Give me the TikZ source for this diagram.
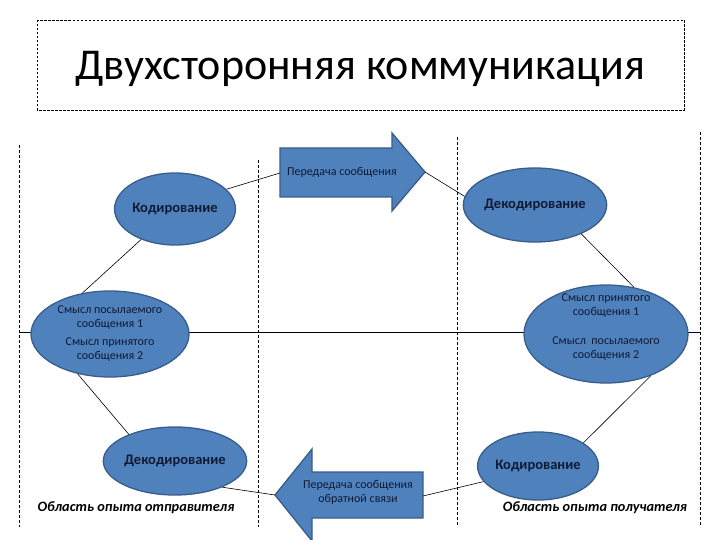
\documentclass[tikz,border=0pt]{standalone}
\usepackage{fontspec}
\setmainfont{Carlito}
\usetikzlibrary{shapes.geometric}
\definecolor{fillblue}{HTML}{4F81BD}
\definecolor{edgeblue}{HTML}{385D8A}
\definecolor{txtnavy}{HTML}{101A33}
\tikzset{
  oval/.style={ellipse, fill=fillblue, draw=edgeblue, line width=1.3pt, inner sep=0pt, text=txtnavy},
  bigarrow/.style={fill=fillblue, draw=edgeblue, line width=1.3pt},
  sep/.style={dashed, line width=0.8pt, dash pattern=on 3pt off 2pt},
  conn/.style={line width=0.6pt, black},
  ovaltext/.style={font=\fontsize{14.5}{16}\selectfont\bfseries},
  smalltext/.style={font=\fontsize{12}{14}\selectfont, text=txtnavy, align=center, inner sep=0pt},
  area/.style={font=\fontsize{14.3}{16}\selectfont\bfseries\itshape, inner sep=0pt}
}
\begin{document}
\begin{tikzpicture}[x=1pt,y=-1pt]
\useasboundingbox (0,0) rectangle (720,540);
% title
\draw[sep, line width=0.6pt, dash pattern=on 2.5pt off 1.5pt] (37,20) rectangle (684,110);
\node[inner sep=0pt, font=\fontsize{44}{50}\selectfont] (title) at (360,69) {Двухсторонняя коммуникация};
% separators
\draw[sep] (19,145) -- (19,527);
\draw[sep] (258,160) -- (258,527);
\draw[sep] (457,137) -- (457,527);
\draw[sep] (700,132) -- (700,527);
\draw[line width=0.8pt] (19,332) -- (700,332);
% top arrow
\draw[bigarrow] (280,148) -- (392,148) -- (392,133) -- (425,172) -- (392,211) -- (392,197) -- (280,197) -- cycle;
\coordinate (topL) at (280,173);
\coordinate (topTip) at (425,172);
\node[smalltext] (toptext) at (342,172) {Передача сообщения};
% bottom arrow
\draw[bigarrow] (423,472) -- (312,472) -- (312,449) -- (275,495) -- (312,541) -- (312,518) -- (423,518) -- cycle;
\coordinate (botTip) at (275,495);
\coordinate (botR) at (423,496);
\node[smalltext] (bottext) at (358,492) {Передача сообщения\\обратной связи};
% ellipses
\node[oval, ovaltext, minimum width=116pt, minimum height=72pt] (kodL) at (175,209) {Кодирование};
\node[oval, ovaltext, minimum width=114pt, minimum height=74pt] (dekR) at (535,205) {Декодирование};
\node[oval, minimum width=158pt, minimum height=86pt] (midL) at (110,334) {};
\node[oval, minimum width=164pt, minimum height=98pt] (midR) at (606,334) {};
\node[oval, ovaltext, minimum width=118pt, minimum height=68pt] (dekL) at (175,461) {Декодирование};
\node[oval, ovaltext, minimum width=108pt, minimum height=68pt] (kodR) at (538,466) {Кодирование};
% middle texts
\node[smalltext] (midLa) at (110,318) {Смысл посылаемого\\сообщения 1};
\node[smalltext] (midLb) at (110,350) {Смысл принятого\\сообщения 2};
\node[smalltext] (midRa) at (606,306) {Смысл принятого\\сообщения 1};
\node[smalltext] (midRb) at (606,349) {Смысл \ посылаемого\\сообщения 2};
% area labels
\node[area] (areaL) at (136,508) {Область опыта отправителя};
\node[area] (areaR) at (595,508) {Область опыта получателя};
% connectors
\draw[conn] (topL) -- (kodL.21);
\draw[conn] (topTip) -- (dekR.173);
\draw[conn] (kodL.222) -- (midL.124);
\draw[conn] (midL.231) -- (dekL.150);
\draw[conn] (dekR.328) -- (midR.59);
\draw[conn] (midR.317) -- (kodR.27);
\draw[conn] (botTip) -- (dekL.331);
\draw[conn] (botR) -- (kodR.196);
\end{tikzpicture}
\end{document}
